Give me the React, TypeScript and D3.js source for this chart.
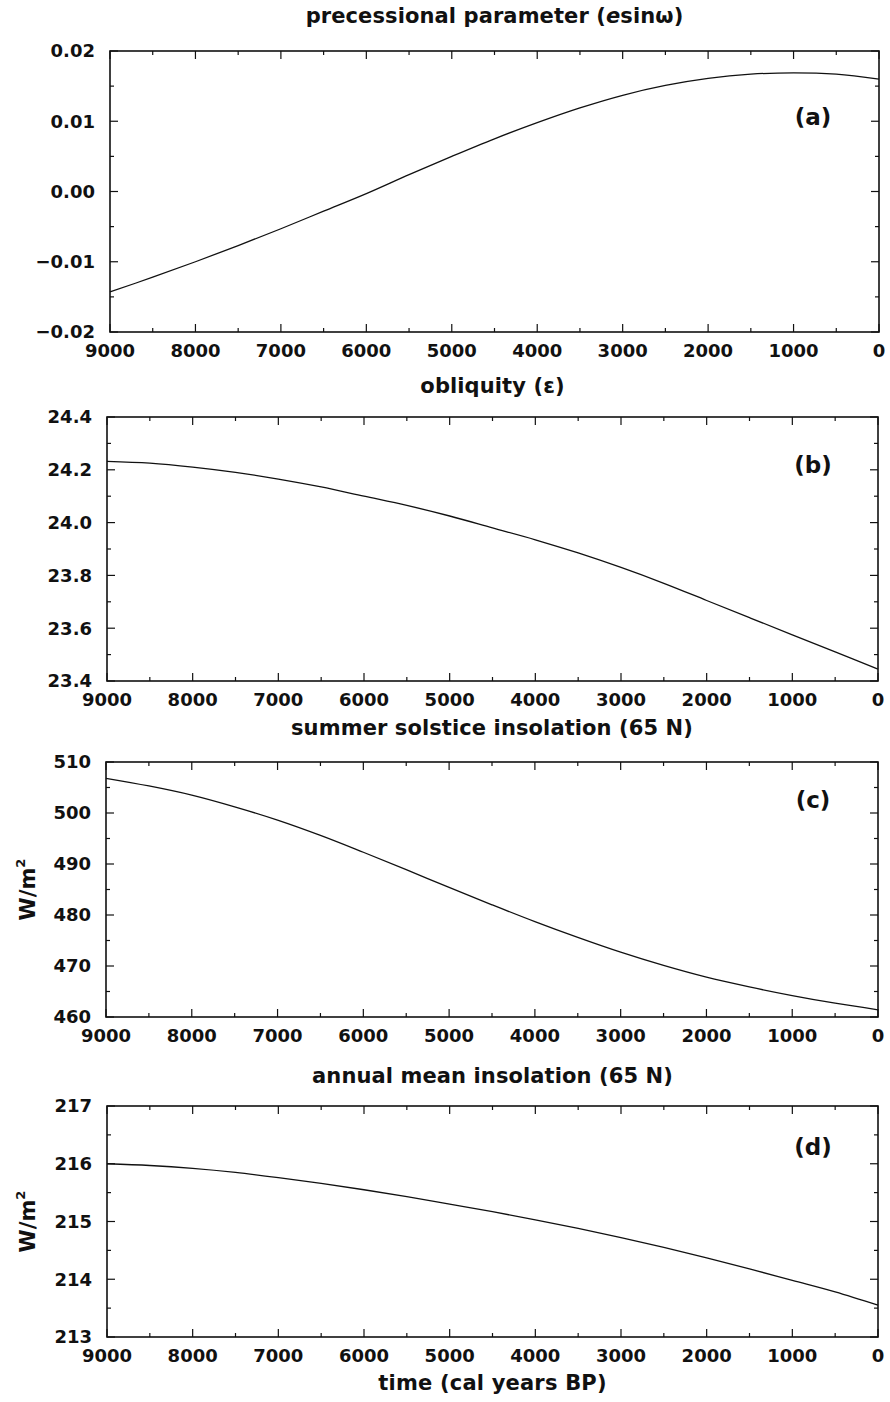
import React from "react";
import * as d3 from "d3";

// Time axis (cal years BP), sampled every 500 years
const years = [
  9000, 8500, 8000, 7500, 7000, 6500, 6000, 5500, 5000, 4500, 4000, 3500, 3000,
  2500, 2000, 1500, 1000, 500, 0,
];

// (a) precessional parameter e·sin(ω)
const precession = [
  -0.0143, -0.0122, -0.01, -0.0077, -0.0053, -0.0028, -0.0003, 0.0024, 0.005,
  0.0075, 0.0098, 0.0119, 0.0137, 0.0151, 0.0161, 0.0167, 0.0169, 0.0167,
  0.016,
];

// (b) obliquity in degrees
const obliquity = [
  24.232, 24.225, 24.21, 24.19, 24.165, 24.135, 24.1, 24.065, 24.025, 23.98,
  23.935, 23.885, 23.83, 23.77, 23.705, 23.64, 23.575, 23.51, 23.445,
];

// (c) summer solstice insolation at 65 N, W/m²
const summerInsolation = [
  506.8, 505.3, 503.5, 501.2, 498.6, 495.6, 492.3, 488.9, 485.4, 482.0, 478.7,
  475.6, 472.7, 470.1, 467.8, 465.9, 464.2, 462.7, 461.4,
];

// (d) annual mean insolation at 65 N, W/m²
const annualInsolation = [
  216.0, 215.97, 215.92, 215.85, 215.76, 215.66, 215.55, 215.43, 215.3, 215.17,
  215.03, 214.88, 214.72, 214.55, 214.37, 214.18, 213.98, 213.78, 213.55,
];

const panelTitles = [
  "precessional parameter",
  "obliquity (ε)",
  "summer solstice insolation (65 N)",
  "annual mean insolation (65 N)",
];
const panelTags = ["(a)", "(b)", "(c)", "(d)"];
const yDomains: [number, number][] = [
  [-0.02, 0.02],
  [23.4, 24.4],
  [460, 510],
  [213, 217],
];
const yMajorCounts = [4, 5, 5, 4];
const yMinorCounts = [8, 10, 10, 8];
const yFormats = [".2f", ".1f", "d", "d"];
const yUnits = [null, null, "W/m", "W/m"];
const xLabel = "time (cal years BP)";

const W = 890;
const H = 1402;
const FONT = "'DejaVu Sans', Arial, sans-serif";
const INK = "#111";

// Plot boxes for the four stacked panels
const layout = [
  { left: 110, right: 879, top: 51, bottom: 332, titleY: 23, tagY: 125 },
  { left: 107, right: 878, top: 417, bottom: 681, titleY: 393, tagY: 473 },
  { left: 106, right: 878, top: 762, bottom: 1017, titleY: 735, tagY: 808 },
  { left: 107, right: 878, top: 1106, bottom: 1337, titleY: 1083, tagY: 1155 },
];

const seriesList = [precession, obliquity, summerInsolation, annualInsolation];

function Panel({ i }: { i: number }) {
  const L = layout[i];
  const x = d3.scaleLinear().domain([9000, 0]).range([L.left, L.right]);
  const y = d3.scaleLinear().domain(yDomains[i]).range([L.bottom, L.top]);
  const xMajor = x.ticks(9);
  const xMinor = x.ticks(18).filter((t) => !xMajor.includes(t));
  const yMajor = y.ticks(yMajorCounts[i]);
  const yMinor = y
    .ticks(yMinorCounts[i])
    .filter((t) => !yMajor.some((m) => Math.abs(m - t) < 1e-9));
  const fmt = d3.format(yFormats[i]);
  const line = d3
    .line<number>()
    .x((_, k) => x(years[k]))
    .y((v) => y(v))
    .curve(d3.curveCatmullRom.alpha(0.5));
  const series = seriesList[i];
  const midX = (L.left + L.right) / 2;
  const midY = (L.top + L.bottom) / 2;
  const major = 8;
  const minor = 4;

  const textStyle = {
    fontFamily: FONT,
    fontWeight: 700,
    fill: INK,
  } as const;

  return (
    <g>
      {/* panel title */}
      <text
        x={midX}
        y={L.titleY}
        textAnchor="middle"
        fontSize={21}
        letterSpacing={0.1}
        style={textStyle}
      >
        {i === 0 ? (
          <>
            {panelTitles[0]} (<tspan fontStyle="italic">e</tspan>sinω)
          </>
        ) : (
          panelTitles[i]
        )}
      </text>

      {/* ticks on all four sides, pointing inward */}
      <g stroke={INK} strokeWidth={1.2}>
        {xMajor.map((t) => (
          <g key={"xM" + t}>
            <line x1={x(t)} x2={x(t)} y1={L.bottom} y2={L.bottom - major} />
            <line x1={x(t)} x2={x(t)} y1={L.top} y2={L.top + major} />
          </g>
        ))}
        {xMinor.map((t) => (
          <g key={"xm" + t}>
            <line x1={x(t)} x2={x(t)} y1={L.bottom} y2={L.bottom - minor} />
            <line x1={x(t)} x2={x(t)} y1={L.top} y2={L.top + minor} />
          </g>
        ))}
        {yMajor.map((t) => (
          <g key={"yM" + t}>
            <line x1={L.left} x2={L.left + major} y1={y(t)} y2={y(t)} />
            <line x1={L.right} x2={L.right - major} y1={y(t)} y2={y(t)} />
          </g>
        ))}
        {yMinor.map((t) => (
          <g key={"ym" + t}>
            <line x1={L.left} x2={L.left + minor} y1={y(t)} y2={y(t)} />
            <line x1={L.right} x2={L.right - minor} y1={y(t)} y2={y(t)} />
          </g>
        ))}
      </g>

      {/* frame */}
      <rect
        x={L.left}
        y={L.top}
        width={L.right - L.left}
        height={L.bottom - L.top}
        fill="none"
        stroke={INK}
        strokeWidth={1.6}
      />

      {/* data curve */}
      <path d={line(series) || ""} fill="none" stroke={INK} strokeWidth={1.3} />

      {/* x tick labels */}
      {xMajor.map((t) => (
        <text
          key={"xl" + t}
          x={x(t)}
          y={L.bottom + 19}
          dy="0.36em"
          textAnchor="middle"
          fontSize={18}
          style={textStyle}
        >
          {t}
        </text>
      ))}

      {/* y tick labels */}
      {yMajor.map((t) => (
        <text
          key={"yl" + t}
          x={L.left - 15}
          y={y(t)}
          dy="0.36em"
          textAnchor="end"
          fontSize={18}
          style={textStyle}
        >
          {fmt(t)}
        </text>
      ))}

      {/* panel tag */}
      <text
        x={813}
        y={L.tagY}
        textAnchor="middle"
        fontSize={23}
        style={textStyle}
      >
        {panelTags[i]}
      </text>

      {/* y unit label */}
      {yUnits[i] && (
        <text
          transform={`translate(35,${midY}) rotate(-90)`}
          textAnchor="middle"
          fontSize={21}
          style={textStyle}
        >
          {yUnits[i]}
          <tspan fontSize={13} dy={-10}>
            2
          </tspan>
        </text>
      )}

      {/* shared time axis label under the last panel */}
      {i === 3 && (
        <text
          x={midX}
          y={1390}
          textAnchor="middle"
          fontSize={21}
          letterSpacing={0.2}
          style={textStyle}
        >
          {xLabel}
        </text>
      )}
    </g>
  );
}

export default function App() {
  return (
    <svg
      width={W}
      height={H}
      viewBox={`0 0 ${W} ${H}`}
      style={{ position: "absolute", left: 0, top: 0, background: "#fff" }}
    >
      <rect width={W} height={H} fill="#fff" />
      {layout.map((_, i) => (
        <Panel key={i} i={i} />
      ))}
    </svg>
  );
}
